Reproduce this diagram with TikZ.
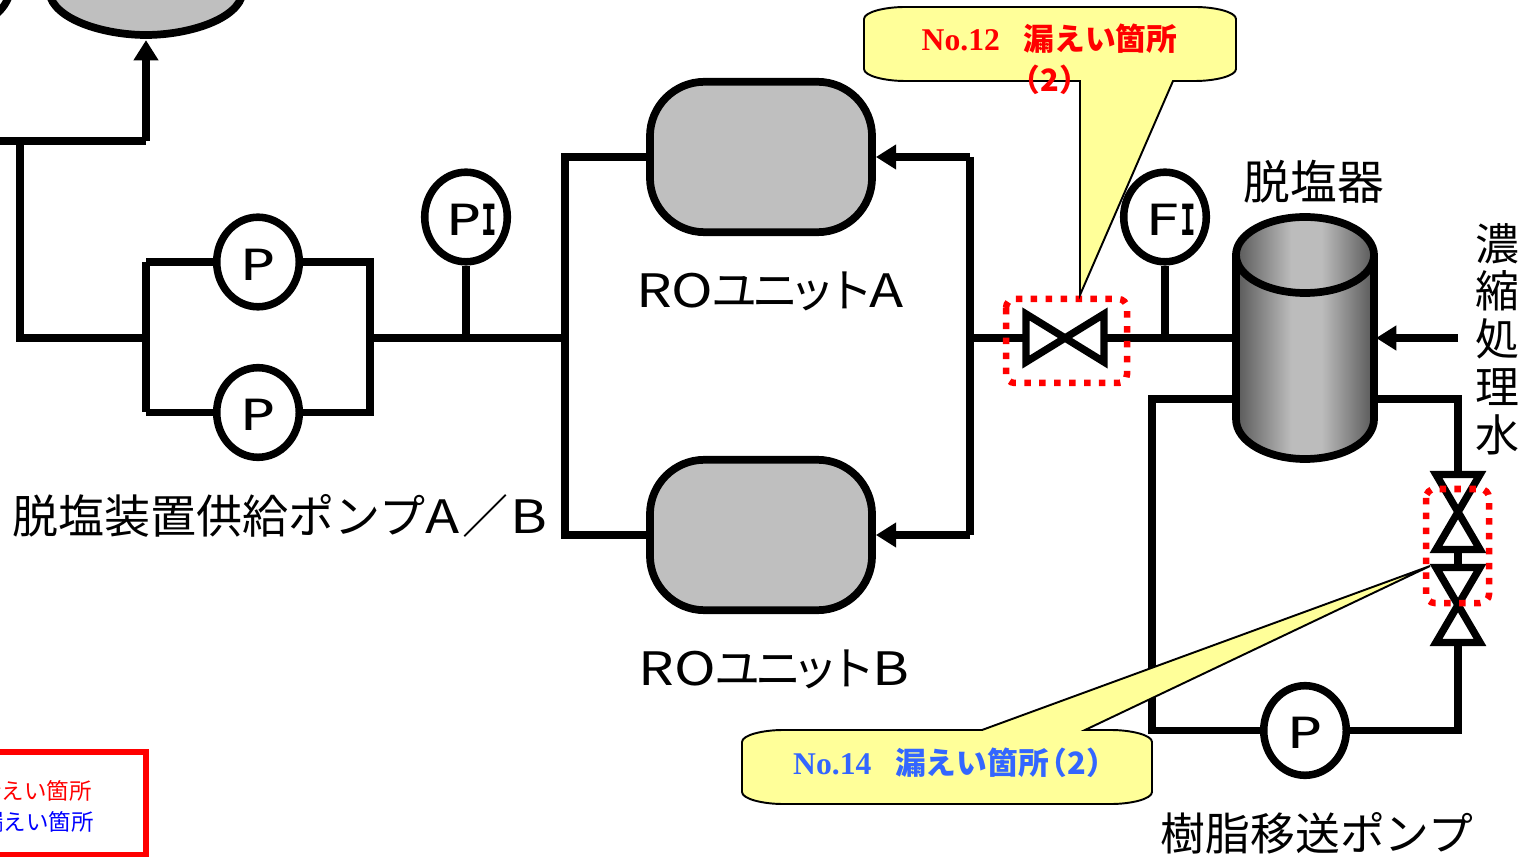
\documentclass[tikz,border=0pt]{standalone}
\usepackage{fontspec}
\usepackage{xcolor}
\usepackage{graphicx}
\usetikzlibrary{shapes.geometric, arrows.meta, positioning, calc}
\setmainfont{Noto Sans CJK JP}
\newfontfamily\serifbold{Liberation Serif}
\newfontfamily\gaugefont{DejaVu Sans Mono}
\definecolor{tankgray}{HTML}{BFBFBF}
\definecolor{calloutyellow}{HTML}{FFFF99}
\definecolor{leakred}{HTML}{FF0000}
\definecolor{leakblue}{HTML}{3366FF}
\definecolor{legendblue}{HTML}{0000FF}
\definecolor{shadedark}{HTML}{585858}
\definecolor{shadelight}{HTML}{BCBCBC}
\pgfdeclarehorizontalshading{cylshade}{100bp}{color(0bp)=(shadedark); color(25bp)=(shadedark); color(45bp)=(shadelight); color(56bp)=(shadelight); color(75bp)=(shadedark); color(100bp)=(shadedark)}
\newcommand{\wideL}[1]{\scalebox{1.22}[1]{#1}}
\newcommand{\gaugeP}[1]{\raisebox{-10.4pt}[0pt][0pt]{\scalebox{1.35}[1]{#1}}}
\newcommand{\gaugeI}{\raisebox{-10.4pt}[0pt][0pt]{\scalebox{0.6}[1]{\bfseries I}}}
\newcommand{\gaugeTag}[1]{\makebox[0pt]{\hspace{7pt}\gaugeP{#1}\hspace{0pt}\gaugeI}}
\newcommand{\callNo}[1]{{\serifbold\fontsize{18}{20}\selectfont #1}}
\tikzset{
  pipe/.style={line width=4.3pt, draw=black},
  feed/.style={pipe, -{Triangle[length=11.5pt, width=13.5pt]}},
  gauge/.style={ellipse, draw=black, fill=white, line width=4.3pt, minimum width=47pt, minimum height=51pt, inner sep=0pt, font=\gaugefont\fontsize{24.5}{24.5}\selectfont},
  valvebody/.style={draw=black, fill=white, line width=4.2pt, miter limit=10},
  portbox/.style={inner sep=0pt, draw=none},
  tank/.style={draw=black, fill=tankgray, line width=4.4pt},
  rounit/.style={tank, rectangle, rounded corners=31pt, minimum width=126.4pt, minimum height=85.6pt, inner sep=0pt},
  column/.style={draw=black, shading=cylshade, line width=4.4pt},
  leakbox/.style={draw=leakred, line width=3.7pt, rounded corners=5pt, dash pattern=on 3.7pt off 4.8pt},
  callout/.style={draw=black, fill=calloutyellow, line width=1.1pt},
  lbl/.style={font=\fontsize{26.2}{30}\selectfont, text=black, inner sep=0pt},
  calltxt/.style={font=\bfseries\fontsize{17.5}{20}\selectfont, inner sep=0pt},
  legendtxt/.style={font=\fontsize{12.8}{15}\selectfont, inner sep=0pt, anchor=east},
}
\begin{document}
\begin{tikzpicture}[x=0.02cm, y=-0.02cm]
  \useasboundingbox (0,0) rectangle (1530,857);
  \clip (0,0) rectangle (1530,857);
  \fill[white] (0,0) rectangle (1530,857);
  % anchors for the pipe runs
  \node[portbox, minimum width=112pt, minimum height=10pt] (topTank) at (146,31) {};
  \node[rounit] (rouA) at (761,157) {};
  \node[rounit] (rouB) at (761,535) {};
  \node[portbox, minimum width=80.5pt, minimum height=136pt] (demin) at (1305,338) {};
  \foreach \n/\x/\y in {jFeed/20/141, jRise/146/141, jLow/20/338, jPumpIn/146/338, jPaL/146/262, jPbL/146/412.5, jPaR/370/262, jPbR/370/412.5, jPumpOut/370/338, jPi/466/338, jRoL/565/338, jRoLa/565/157, jRoLb/565/535, jRoR/970/338, jRoRa/970/157, jRoRb/970/535, jFi/1165/338, jDrain/1152/399, jDrainB/1152/730.5, jOut/1458/399, jRet/1458/730.5, jTreat/1458/338} \coordinate (\n) at (\x,\y);
  % instruments
  \node[gauge] (pumpA) at (258,262) {\gaugeP{P}};
  \node[gauge] (pumpB) at (258,412.5) {\gaugeP{P}};
  \node[gauge] (pumpC) at (1305,730.5) {\gaugeP{P}};
  \node[gauge] (gaugePI) at (466,217) {\gaugeTag{P}};
  \node[gauge] (gaugeFI) at (1165,217) {\gaugeTag{F}};
  \foreach \n/\x/\y in {valveA/1065/338, valveB/1458/512, valveC/1458/605} \node[portbox, minimum width=4pt, minimum height=4pt] (\n) at (\x,\y) {};
  % pipes
  \draw[pipe] (0,141) -- (jRise);
  \draw[feed] (jRise) -- (topTank.south -| jRise);
  \draw[pipe] (jFeed) -- (jLow) -- (jPumpIn);
  \draw[pipe] (jPaL) -- (jPbL);
  \draw[pipe] (pumpA) -- (jPaL);
  \draw[pipe] (pumpB) -- (jPbL);
  \draw[pipe] (pumpA) -- (jPaR) -- (jPbR) -- (pumpB);
  \draw[pipe] (jPumpOut) -- (jRoL);
  \draw[pipe] (jPi) -- (gaugePI);
  \draw[pipe] (rouA.west) -- (jRoLa) -- (jRoLb) -- (rouB.west);
  \draw[feed] (jRoRb) -- (rouB.east);
  \draw[feed] (jRoRa) -- (rouA.east);
  \draw[pipe] (jRoRa) -- (jRoRb);
  \draw[pipe] (jRoR) -- (valveA) -- (jFi -| demin.west);
  \draw[pipe] (jFi) -- (gaugeFI);
  \draw[pipe] (demin.west |- jDrain) -- (jDrain) -- (jDrainB) -- (pumpC);
  \draw[pipe] (pumpC) -- (jRet) -- (valveC);
  \draw[pipe] (demin.east |- jOut) -- (jOut) -- (valveB);
  \draw[pipe] (valveB) -- (valveC);
  \draw[feed] (jTreat) -- (jTreat -| demin.east);
  % tanks cut by the frame
  \draw[line width=4.3pt] (-33,-20) circle (45);
  \draw[tank] (49,-20) -- (49,-8) .. controls (53,20) and (105,35) .. (146,35) .. controls (187,35) and (239,20) .. (243,-8) -- (243,-20) -- cycle;
  % demineralizer
  \draw[column] (1236,257) -- (1236,419) .. controls (1236,442) and (1268,459) .. (1305,459) .. controls (1342,459) and (1374,442) .. (1374,419) -- (1374,257) -- cycle;
  \draw[column] (1305,255) ellipse [x radius=69, y radius=38];
  % valves
  \draw[valvebody, shift={(valveA)}] (-39,-24) -- (39,24) -- (39,-24) -- (-39,24) -- cycle;
  \foreach \n in {valveB, valveC} \draw[valvebody, shift={(\n)}] (-22,-37.5) -- (22,37.5) -- (-22,37.5) -- (22,-37.5) -- cycle;
  % leak markers
  \draw[leakbox] (1006,299) rectangle (1127,383);
  \draw[leakbox] (1426,489) rectangle (1489,603);
  % texts
  \node[lbl, font=\fontsize{26.6}{30}\selectfont] (lblDemin) at (1314,182) {脱塩器};
  \node[lbl, align=center, font=\fontsize{25}{27.2}\selectfont] (lblTreat) at (1497,339) {濃\\縮\\処\\理\\水};
  \node[lbl] (lblFeed) at (280,516) {脱塩装置供給ポンプ\wideL{A}\hspace{1.5pt}／\hspace{1.5pt}\wideL{B}};
  \node[lbl] (lblRoA) at (770,291) {\wideL{RO}\hspace{-1pt}ユ\hspace{-3pt}ニ\hspace{-5pt}ッ\hspace{-5pt}ト\hspace{-2pt}\wideL{A}};
  \node[lbl] (lblRoB) at (774,669) {\wideL{RO}\hspace{-1pt}ユ\hspace{-3pt}ニ\hspace{-5pt}ッ\hspace{-5pt}ト\hspace{-2pt}\wideL{B}};
  \node[lbl, font=\fontsize{25.5}{30}\selectfont] (lblResin) at (1317,833) {樹脂移送ポンプ};
  % callouts
  \draw[callout] (864,19) .. controls (864,12) and (885,7) .. (905,7) -- (1195,7) .. controls (1215,7) and (1236,12) .. (1236,19) -- (1236,69) .. controls (1236,76) and (1215,81) .. (1195,81) -- (1173,81) -- (1080,295) -- (1080,81) -- (905,81) .. controls (885,81) and (864,76) .. (864,69) -- cycle;
  \draw[callout] (742,742) .. controls (742,735) and (763,730) .. (783,730) -- (982,730) -- (1430,566) -- (1085,730) -- (1111,730) .. controls (1131,730) and (1152,735) .. (1152,742) -- (1152,792) .. controls (1152,799) and (1131,804) .. (1111,804) -- (783,804) .. controls (763,804) and (742,799) .. (742,792) -- cycle;
  \node[calltxt, text=leakred] (callA) at (1049.5,39) {\callNo{No.12}\hspace{13.5pt}漏えい箇所};
  \node[calltxt, text=leakred] (callAb) at (1050,80) {（2）};
  \node[calltxt, text=leakblue] (callB) at (955,762.5) {\callNo{No.14}\hspace{13.5pt}漏えい箇所\hspace{-7pt}（2）};
  % legend
  \draw[draw=leakred, line width=3pt] (-20,752) rectangle (146,855);
  \node[legendtxt, text=leakred] (legA) at (92,791) {漏えい箇所};
  \node[legendtxt, text=legendblue] (legB) at (94,822) {漏えい箇所};
\end{tikzpicture}
\end{document}
